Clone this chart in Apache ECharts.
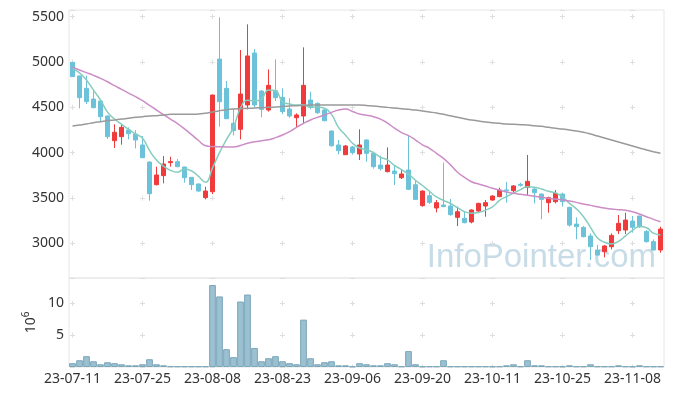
<!DOCTYPE html>
<html><head><meta charset="utf-8">
<script src="https://cdn.jsdelivr.net/npm/echarts@6/dist/echarts.min.js"></script>
<style>html,body{margin:0;padding:0;background:#fff}#c{width:673px;height:396px}</style>
</head><body><div id="c"></div>
<script>
const dates = ['23-07-11','23-07-12','23-07-13','23-07-14','23-07-17','23-07-18','23-07-19','23-07-20','23-07-21','23-07-24','23-07-25','23-07-26','23-07-27','23-07-28','23-07-31',
'23-08-01','23-08-02','23-08-03','23-08-04','23-08-07','23-08-08','23-08-09','23-08-10','23-08-11','23-08-14','23-08-16','23-08-17','23-08-18','23-08-21','23-08-22','23-08-23','23-08-24','23-08-25','23-08-28','23-08-29','23-08-30','23-08-31',
'23-09-01','23-09-04','23-09-05','23-09-06','23-09-07','23-09-08','23-09-11','23-09-12','23-09-13','23-09-14','23-09-15','23-09-18','23-09-19','23-09-20','23-09-21','23-09-22','23-09-25','23-09-26','23-09-27',
'23-10-04','23-10-05','23-10-06','23-10-10','23-10-11','23-10-12','23-10-13','23-10-16','23-10-17','23-10-18','23-10-19','23-10-20','23-10-23','23-10-24','23-10-25','23-10-26','23-10-27','23-10-30','23-10-31',
'23-11-01','23-11-02','23-11-03','23-11-06','23-11-07','23-11-08','23-11-09','23-11-10','23-11-13','23-11-14'];
const opens = [4997,4846,4710,4592,4570,4405,4133,4177,4250,4206,4085,3897,3647,3747,3890,3901,3842,3728,3655,3504,3570,5033,4710,4324,4258,4526,5100,4680,4471,4684,4611,4482,4386,4405,4581,4544,4471,4239,4085,3978,4063,3986,4140,3993,3864,3791,3798,3724,3809,3647,3416,3526,3390,3423,3412,3287,3276,3236,3357,3412,3478,3515,3590,3581,3651,3618,3599,3544,3449,3460,3544,3397,3213,3176,3081,2927,2908,2963,3140,3147,3246,3302,3132,3019,2927];
const closes = [4839,4607,4563,4497,4397,4177,4225,4280,4210,4140,3945,3548,3754,3875,3902,3846,3724,3647,3577,3577,4636,4563,4375,4243,4647,5067,4526,4478,4743,4607,4453,4405,4416,4743,4500,4441,4353,4077,4022,4074,4000,4085,3993,3846,3824,3864,3769,3765,3596,3485,3577,3452,3449,3405,3316,3349,3228,3368,3441,3449,3522,3588,3580,3633,3640,3684,3559,3485,3504,3552,3460,3202,3184,3074,2963,2871,2971,3088,3221,3257,3177,3184,3019,2927,3158];
const lows = [4835,4489,4537,4489,4339,4151,4052,4088,4147,4048,3940,3471,3640,3662,3846,3840,3669,3588,3570,3485,3544,4287,4370,4191,4147,4478,4500,4390,4453,4570,4427,4386,4280,4316,4478,4427,4345,4066,3982,3975,3982,3919,3901,3824,3802,3783,3644,3710,3588,3480,3405,3434,3342,3400,3305,3191,3221,3221,3338,3294,3471,3510,3449,3544,3625,3530,3441,3265,3338,3441,3405,3184,3044,3066,2816,2865,2846,2934,3103,3103,3118,3170,3008,2920,2897];
const highs = [5000,4850,4850,4692,4580,4410,4313,4305,4280,4250,4184,3905,3846,3963,3955,3930,3845,3730,3660,3625,4640,5493,4791,4486,5133,5416,5144,4690,4919,5030,4710,4600,4434,5162,4673,4555,4490,4245,4140,4085,4074,4258,4147,4011,3967,4059,3864,3816,4184,3691,3585,3577,3478,3890,3489,3405,3357,3375,3448,3478,3530,3614,3677,3644,3669,3975,3610,3550,3515,3588,3559,3405,3287,3191,3110,2982,2982,3110,3313,3338,3302,3305,3147,3044,3184];
const ma5 = [4930,4880,4800,4690,4581,4448,4372,4315,4258,4206,4160,4025,3919,3852,3805,3785,3820,3799,3739,3674,3832,4000,4146,4279,4493,4579,4572,4592,4692,4684,4561,4537,4525,4525,4503,4501,4491,4423,4279,4193,4105,4052,4035,4000,3950,3922,3859,3814,3764,3696,3638,3575,3512,3474,3440,3394,3349,3333,3340,3367,3402,3474,3516,3554,3593,3625,3619,3600,3574,3557,3512,3441,3380,3294,3177,3059,3013,2993,3023,3082,3143,3185,3172,3113,3093];
const ma20 = [4942,4912,4883,4853,4820,4783,4739,4699,4658,4618,4574,4522,4471,4420,4370,4320,4262,4200,4135,4077,4068,4066,4063,4063,4080,4105,4120,4133,4142,4166,4195,4232,4280,4324,4361,4390,4416,4445,4471,4482,4455,4427,4412,4397,4370,4326,4270,4222,4188,4140,4087,4048,3993,3938,3866,3785,3728,3680,3655,3633,3607,3588,3566,3552,3541,3530,3519,3508,3497,3489,3478,3467,3452,3434,3419,3404,3390,3379,3372,3364,3349,3324,3294,3265,3239];
const ma60 = [4294,4305,4316,4331,4342,4353,4361,4372,4379,4390,4397,4405,4408,4416,4423,4423,4423,4423,4427,4434,4449,4464,4475,4482,4486,4489,4493,4497,4500,4504,4511,4515,4519,4522,4526,4526,4526,4526,4526,4526,4526,4526,4522,4515,4508,4500,4493,4486,4478,4471,4460,4449,4438,4423,4408,4390,4375,4361,4350,4339,4331,4324,4316,4313,4309,4305,4298,4291,4280,4269,4261,4250,4239,4225,4206,4184,4162,4140,4118,4096,4074,4052,4030,4011,3993];
const volumes = [0.6,1.06,1.7,0.9,0.43,0.75,0.6,0.43,0.27,0.27,0.43,1.22,0.43,0.27,0.1,0.1,0.1,0.1,0.1,0.1,12.9,11.1,2.8,1.55,10.3,11.4,3.0,0.9,1.38,1.7,0.9,0.6,0.43,7.45,1.38,0.43,0.75,0.9,0.27,0.27,0.1,0.6,0.43,0.27,0.27,0.6,0.43,0.1,2.5,0.43,0.1,0.1,0.1,1.06,0.1,0.1,0.1,0.1,0.1,0.1,0.1,0.1,0.27,0.43,0.1,1.06,0.27,0.27,0.1,0.1,0.1,0.27,0.1,0.1,0.43,0.1,0.1,0.1,0.27,0.1,0.1,0.27,0.1,0.1,0.1];
const volumeUnit = '{b|10}{s|6}';
const watermark = 'InfoPointer.com';

const FONT = 'Noto Sans';
const ohlc = opens.map((o, i) => [o, closes[i], lows[i], highs[i]]);
const UP = '#ef3b3b', DOWN = '#6cc3d9';
const gridC = '#dedede';
const chart = echarts.init(document.getElementById('c'));
const option = {
  animation: false,
  backgroundColor: '#fff',
  textStyle: {fontFamily: FONT},
  grid: [
    {left: 69, right: 9, top: 10, height: 268, show: true, borderColor: '#e6e6e6', borderWidth: 1},
    {left: 69, right: 9, top: 278, height: 89, show: true, borderColor: '#e6e6e6', borderWidth: 1}
  ],
  xAxis: [
    {type: 'category', data: dates, gridIndex: 0, boundaryGap: true,
     axisLine: {show: false}, axisTick: {show: false}, axisLabel: {show: false},
     splitLine: {show: true, interval: 9, alignWithLabel: true, lineStyle: {color: gridC}}},
    {type: 'category', data: dates, gridIndex: 1, boundaryGap: true,
     axisLine: {show: false}, axisTick: {show: false},
     axisLabel: {interval: 9, fontSize: 14, color: '#333', margin: 5, fontFamily: FONT},
     splitLine: {show: true, interval: 9, alignWithLabel: true, lineStyle: {color: gridC}}}
  ],
  yAxis: [
    {type: 'value', gridIndex: 0, min: 2618, max: 5574, splitNumber: 5,
     axisLine: {show: false}, axisTick: {show: false},
     axisLabel: {fontSize: 14, color: '#333', margin: 5, showMinLabel: false, showMaxLabel: false, fontFamily: FONT,
                 formatter: v => String(v)},
     splitLine: {show: true, lineStyle: {color: gridC}}},
    {type: 'value', gridIndex: 1, min: 0, max: 14, interval: 5,
     axisLine: {show: false}, axisTick: {show: false},
     axisLabel: {fontSize: 14, color: '#333', margin: 5, showMinLabel: false, showMaxLabel: false, fontFamily: FONT},
     splitLine: {show: true, lineStyle: {color: gridC}},
     name: volumeUnit, nameLocation: 'middle', nameRotate: 90, nameGap: 28, nameMoveOverlap: false,
     nameTextStyle: {rich: {b: {fontSize: 14, color: '#333', fontFamily: FONT, lineHeight: 20},
                            s: {fontSize: 10, color: '#333', fontFamily: FONT, verticalAlign: 'top', lineHeight: 12}}}}
  ],
  graphic: [{type: 'text', z: 0,
    style: {x: 656, y: 274, text: watermark, fontSize: 33, fontFamily: 'Liberation Sans',
            fill: 'rgba(165,198,216,0.62)', align: 'right', verticalAlign: 'bottom'}}],
  series: [
    {type: 'candlestick', xAxisIndex: 0, yAxisIndex: 0, data: ohlc, barWidth: 5, z: 3,
     itemStyle: {color: UP, color0: DOWN, borderColor: UP, borderColor0: DOWN, borderWidth: 1}},
    {type: 'line', xAxisIndex: 0, yAxisIndex: 0, data: ma5, smooth: true, showSymbol: false, z: 4,
     lineStyle: {color: '#86ccbf', width: 1.5}},
    {type: 'line', xAxisIndex: 0, yAxisIndex: 0, data: ma20, smooth: true, showSymbol: false, z: 4,
     lineStyle: {color: '#cc8cc6', width: 1.5}},
    {type: 'line', xAxisIndex: 0, yAxisIndex: 0, data: ma60, smooth: true, showSymbol: false, z: 4,
     lineStyle: {color: '#9a9a9a', width: 1.5}},
    {type: 'bar', xAxisIndex: 1, yAxisIndex: 1, data: volumes, barCategoryGap: '4%',
     itemStyle: {color: '#9bc0d1', borderColor: '#7aa6b9', borderWidth: 1}}
  ]
};
chart.setOption(option);

// turn split lines into small "+" marks at grid intersections
const ARM = 5;
const xA = chart.convertToPixel({xAxisIndex: 0}, dates[0]);
const xB = chart.convertToPixel({xAxisIndex: 0}, dates[10]);
const px = xB - xA;
const gl = 69;
const hOff = ((px - ((xA - ARM / 2 - gl) % px)) % px + px) % px;
const yA = chart.convertToPixel({yAxisIndex: 0}, 5500);
const yB = chart.convertToPixel({yAxisIndex: 0}, 5000);
const py = yB - yA;
const vOff0 = ((py - ((yA - ARM / 2 - 10) % py)) % py + py) % py;
const vA = chart.convertToPixel({yAxisIndex: 1}, 10);
const vB = chart.convertToPixel({yAxisIndex: 1}, 5);
const pv = vB - vA;
const vOff1 = ((pv - ((vA - ARM / 2 - 278) % pv)) % pv + pv) % pv;
chart.setOption({
  xAxis: [
    {splitLine: {lineStyle: {color: gridC, type: [ARM, py - ARM], dashOffset: vOff0}}},
    {splitLine: {lineStyle: {color: gridC, type: [ARM, pv - ARM], dashOffset: vOff1}}}
  ],
  yAxis: [
    {splitLine: {lineStyle: {color: gridC, type: [ARM, px - ARM], dashOffset: hOff}}},
    {splitLine: {lineStyle: {color: gridC, type: [ARM, px - ARM], dashOffset: hOff}}}
  ]
});
</script></body></html>
